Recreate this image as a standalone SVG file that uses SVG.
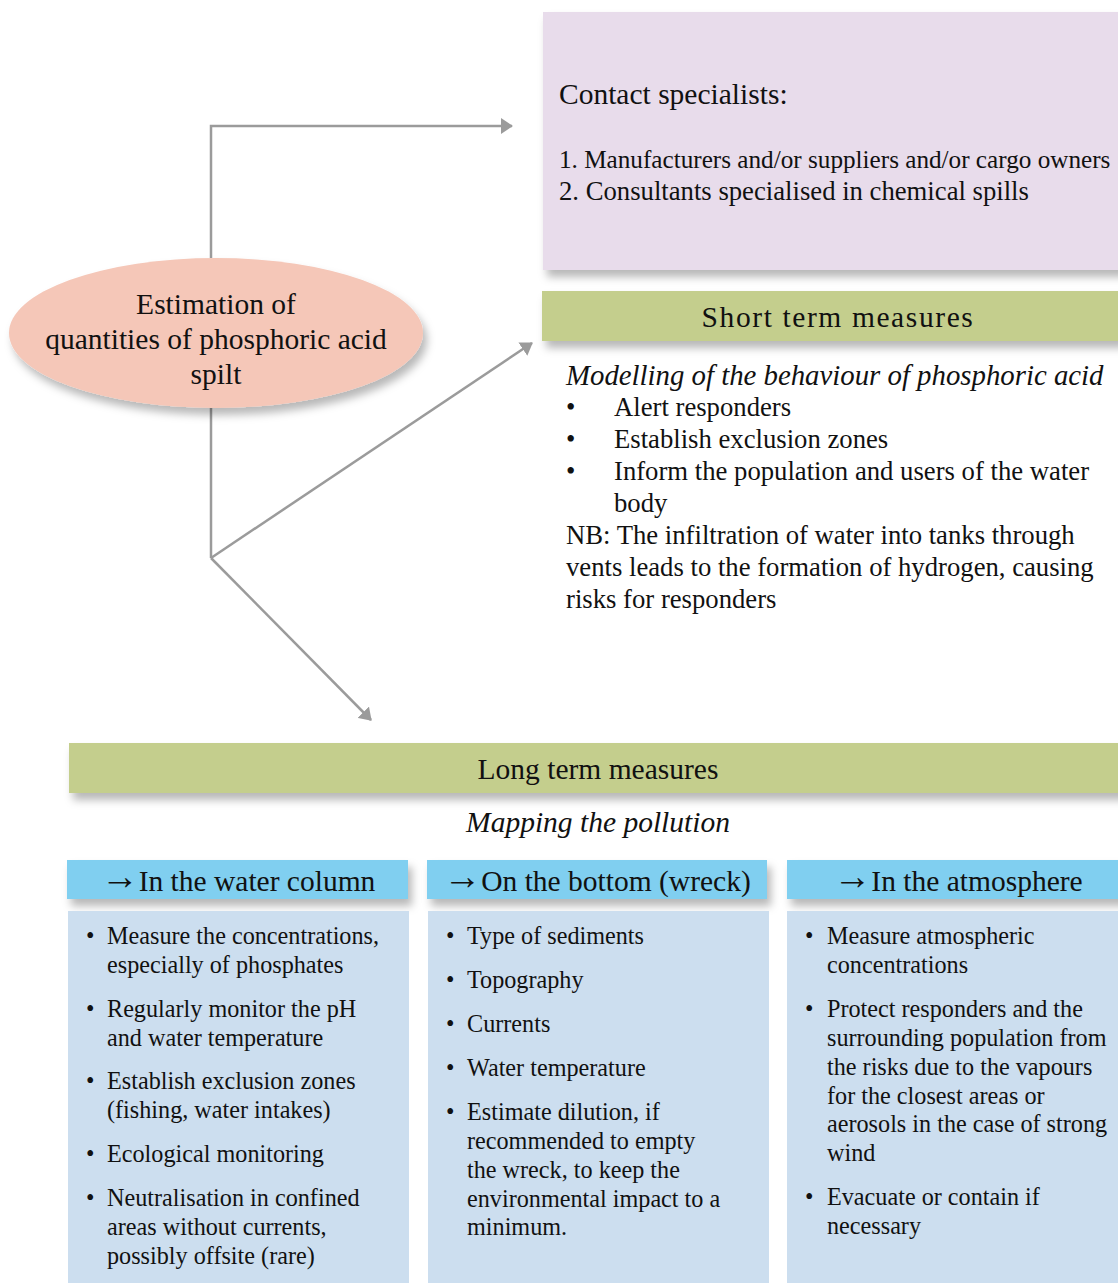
<svg xmlns="http://www.w3.org/2000/svg" width="1118" height="1283" viewBox="0 0 1118 1283">
<defs>
<filter id="sh" x="-10%" y="-20%" width="130%" height="160%">
<feDropShadow dx="4" dy="7" stdDeviation="4" flood-color="#000" flood-opacity="0.28"/>
</filter>
<marker id="ah" viewBox="0 0 12 16" refX="11" refY="8" markerWidth="12" markerHeight="16" markerUnits="userSpaceOnUse" orient="auto">
<path d="M0,0 L12,8 L0,16 z" fill="#9b9b9b"/>
</marker>
</defs>
<style>
text{font-family:"Liberation Serif","Times New Roman",serif;fill:#111;}
.b{font-size:26.7px;}
.h{font-size:29.5px;}
.l1{font-size:25.2px;}
.mi{font-size:28.8px;font-style:italic;}
.c22{font-size:24.2px;}
.it{font-style:italic;}
.mid{text-anchor:middle;}
.arr{font-size:38px;}
.conn{fill:none;stroke:#9b9b9b;stroke-width:2.5;}
</style>
<g id="connectors">
<polyline class="conn" points="211,258 211,126 512,126" marker-end="url(#ah)"/>
<polyline class="conn" points="211,408 211,558"/>
<line class="conn" x1="211" y1="558" x2="532" y2="343" marker-end="url(#ah)"/>
<line class="conn" x1="211" y1="558" x2="371" y2="720" marker-end="url(#ah)"/>
</g>
<g id="estimation">
<ellipse cx="216" cy="333" rx="207" ry="75" fill="#F5C7B8" filter="url(#sh)"/>
<text class="h mid" x="216" y="314">Estimation of</text>
<text class="h mid" x="216" y="349">quantities of phosphoric acid</text>
<text class="h mid" x="216" y="384">spilt</text>
</g>
<g id="contact">
<rect x="543" y="12" width="580" height="258" fill="#E8DCEB" filter="url(#sh)"/>
<text class="h" x="559" y="104">Contact specialists:</text>
<text class="l1" x="559" y="168">1. Manufacturers and/or suppliers and/or cargo owners</text>
<text class="b" x="559" y="200">2. Consultants specialised in chemical spills</text>
</g>
<g id="short-term">
<rect x="542" y="291" width="580" height="50" fill="#C4CE8D" filter="url(#sh)"/>
<text class="h mid" x="838" y="327" letter-spacing="1.6">Short term measures</text>
<text class="mi" x="566" y="385">Modelling of the behaviour of phosphoric acid</text>
<text class="b" x="566" y="416">•</text><text class="b" x="614" y="416">Alert responders</text>
<text class="b" x="566" y="448">•</text><text class="b" x="614" y="448">Establish exclusion zones</text>
<text class="b" x="566" y="480">•</text><text class="b" x="614" y="480">Inform the population and users of the water</text>
<text class="b" x="614" y="512">body</text>
<text class="b" x="566" y="544">NB: The infiltration of water into tanks through</text>
<text class="b" x="566" y="576">vents leads to the formation of hydrogen, causing</text>
<text class="b" x="566" y="608">risks for responders</text>
</g>
<g id="long-term">
<rect x="69" y="743" width="1055" height="50" fill="#C4CE8D" filter="url(#sh)"/>
<text class="h mid" x="598" y="779">Long term measures</text>
<text class="h it mid" x="598" y="832">Mapping the pollution</text>
</g>
<g id="water-column">
<rect x="67" y="860" width="341" height="39" fill="#80CFF0" filter="url(#sh)"/>
<text class="h mid" x="238" y="891"><tspan class="arr" dy="-2">→</tspan><tspan dy="2">In the water column</tspan></text>
<rect x="68" y="911" width="341" height="380" fill="#CCDEEF"/>
<text class="c22" x="86" y="944">•</text><text class="c22" x="107" y="944">Measure the concentrations,</text>
<text class="c22" x="107" y="973">especially of phosphates</text>
<text class="c22" x="86" y="1017">•</text><text class="c22" x="107" y="1017">Regularly monitor the pH</text>
<text class="c22" x="107" y="1046">and water temperature</text>
<text class="c22" x="86" y="1089">•</text><text class="c22" x="107" y="1089">Establish exclusion zones</text>
<text class="c22" x="107" y="1118">(fishing, water intakes)</text>
<text class="c22" x="86" y="1162">•</text><text class="c22" x="107" y="1162">Ecological monitoring</text>
<text class="c22" x="86" y="1206">•</text><text class="c22" x="107" y="1206">Neutralisation in confined</text>
<text class="c22" x="107" y="1235">areas without currents,</text>
<text class="c22" x="107" y="1264">possibly offsite (rare)</text>
</g>
<g id="bottom-wreck">
<rect x="427" y="860" width="340" height="39" fill="#80CFF0" filter="url(#sh)"/>
<text class="h mid" x="597" y="891"><tspan class="arr" dy="-2">→</tspan><tspan dy="2">On the bottom (wreck)</tspan></text>
<rect x="428" y="911" width="341" height="380" fill="#CCDEEF"/>
<text class="c22" x="446" y="944">•</text><text class="c22" x="467" y="944">Type of sediments</text>
<text class="c22" x="446" y="988">•</text><text class="c22" x="467" y="988">Topography</text>
<text class="c22" x="446" y="1032">•</text><text class="c22" x="467" y="1032">Currents</text>
<text class="c22" x="446" y="1076">•</text><text class="c22" x="467" y="1076">Water temperature</text>
<text class="c22" x="446" y="1120">•</text><text class="c22" x="467" y="1120">Estimate dilution, if</text>
<text class="c22" x="467" y="1149">recommended to empty</text>
<text class="c22" x="467" y="1178">the wreck, to keep the</text>
<text class="c22" x="467" y="1207">environmental impact to a</text>
<text class="c22" x="467" y="1235">minimum.</text>
</g>
<g id="atmosphere">
<rect x="787" y="860" width="340" height="39" fill="#80CFF0" filter="url(#sh)"/>
<text class="h mid" x="958" y="891"><tspan class="arr" dy="-2">→</tspan><tspan dy="2">In the atmosphere</tspan></text>
<rect x="787" y="911" width="340" height="380" fill="#CCDEEF"/>
<text class="c22" x="805" y="944">•</text><text class="c22" x="827" y="944">Measure atmospheric</text>
<text class="c22" x="827" y="973">concentrations</text>
<text class="c22" x="805" y="1017">•</text><text class="c22" x="827" y="1017">Protect responders and the</text>
<text class="c22" x="827" y="1046">surrounding population from</text>
<text class="c22" x="827" y="1075">the risks due to the vapours</text>
<text class="c22" x="827" y="1104">for the closest areas or</text>
<text class="c22" x="827" y="1132">aerosols in the case of strong</text>
<text class="c22" x="827" y="1161">wind</text>
<text class="c22" x="805" y="1205">•</text><text class="c22" x="827" y="1205">Evacuate or contain if</text>
<text class="c22" x="827" y="1234">necessary</text>
</g>
</svg>
